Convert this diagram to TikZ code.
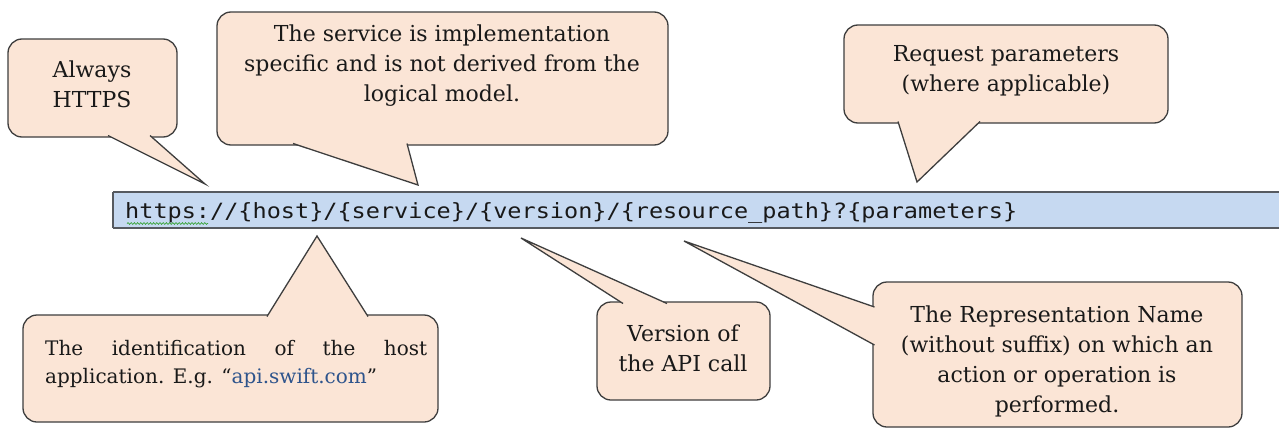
\documentclass[tikz,border=0pt]{standalone}
\usepackage{fontspec}
\setmainfont{DejaVu Serif}
\newfontfamily\codefont[FakeStretch=1.12]{DejaVu Sans Mono}
\usetikzlibrary{decorations.pathmorphing}

\definecolor{peach}{RGB}{251,229,214}
\definecolor{rim}{RGB}{62,62,62}
\definecolor{barfill}{RGB}{198,217,241}
\definecolor{barrim}{RGB}{86,90,96}
\definecolor{linkblue}{RGB}{46,84,140}
\definecolor{spellgreen}{RGB}{60,165,60}
\definecolor{ink}{RGB}{25,25,25}

\tikzset{
  bubble/.style={fill=peach, draw=rim, line width=1.3pt, rounded corners=14pt},
  tailedge/.style={draw=rim, line width=1.3pt},
  note/.style={font=\fontsize{22}{30}\selectfont, align=center, inner sep=0pt, text=ink},
  smallnote/.style={note, font=\fontsize{20}{28}\selectfont},
  code/.style={font=\codefont\fontsize{21}{24}\selectfont, inner sep=0pt, text=ink},
}

% speech bubble: #1 name, #2 top-left, #3 bottom-right,
% #4 / #5 tail base (just inside the border), #6 tail tip
\newcommand\speech[6]{%
  \draw[bubble] #2 rectangle #3;
  \coordinate (#1-tip) at #6;
  \fill[peach] #4 -- (#1-tip) -- #5 -- cycle;
  \draw[tailedge] #4 -- (#1-tip) -- #5;
}

\begin{document}
\begin{tikzpicture}[x=1pt,y=-1pt]
\useasboundingbox (0,0) rectangle (1279,431);
\fill[white] (0,0) rectangle (1279,431);

% callouts above the URL
\speech{always}{(8,39)}{(177,137)}{(108,135.5)}{(150,135.5)}{(205,184)}
\speech{service}{(217,12)}{(668,145)}{(293,143.5)}{(407,143.5)}{(418,185)}
\speech{request}{(844,25)}{(1168,123)}{(898,121.5)}{(980,121.5)}{(917,182)}

% callouts below the URL
\speech{host}{(23,315)}{(438,422)}{(267,316.5)}{(368,316.5)}{(317,236)}
\speech{version}{(597,302)}{(770,400)}{(623,303.5)}{(667,303.5)}{(521,238)}
\speech{repr}{(873,282)}{(1242,427)}{(874.5,307)}{(874.5,345)}{(684,241)}

% URL bar
\fill[barfill] (113,192) rectangle (1279,228);
\draw[barrim, line width=2pt] (1280,192) -- (113,192);
\draw[barrim, line width=2pt] (113,228) -- (1280,228);
\draw[barrim, line width=1.1pt] (113,192) -- (113,228);
\node[code, anchor=base west] (url) at (125,218)
  {https://\{host\}/\{service\}/\{version\}/\{resource\_path\}?\{parameters\}};
\draw[spellgreen, line width=0.7pt, decorate,
      decoration={snake, amplitude=0.9pt, segment length=3.2pt}]
  (127,223.5) -- (208,223.5);

% callout texts
\node[note] (alwaysText) at (92,84) {Always\\HTTPS};
\node[note] (serviceText) at (442,66)
  {The service is implementation\\specific and is not derived from the\\logical model.};
\node[note] (requestText) at (1006,71) {Request parameters\\(where applicable)};
\node[smallnote, align=left, anchor=west] (hostText) at (45,364)
  {\hbox to 382pt{The\hfill identification\hfill of\hfill the\hfill host}\\
   application. E.g. “\textcolor{linkblue}{api.swift.com}”};
\node[note] (versionText) at (683,348) {Version of\\the API call};
\node[note] (reprText) at (1057,361)
  {The Representation Name\\(without suffix) on which an\\action or operation is\\performed.};
\end{tikzpicture}
\end{document}
